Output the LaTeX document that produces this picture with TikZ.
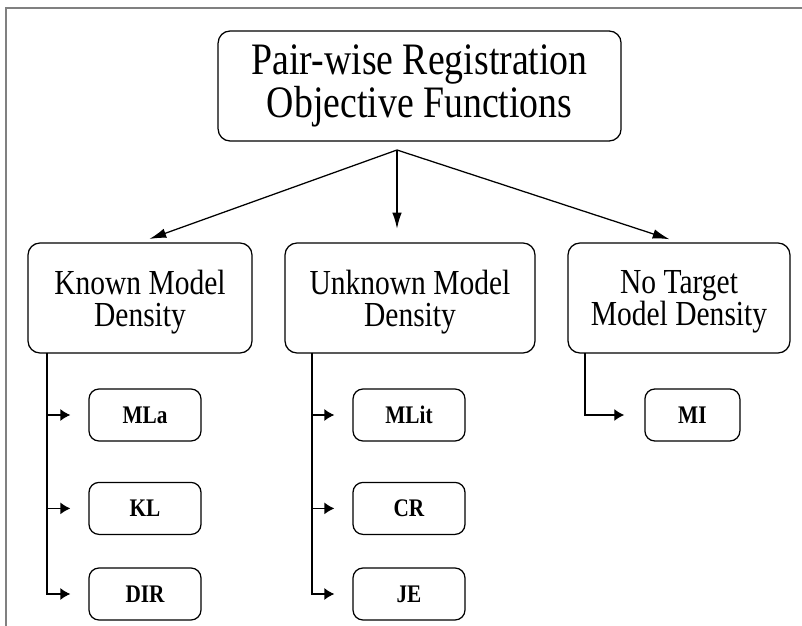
\documentclass[tikz,border=0pt]{standalone}
\usepackage{fontspec}
\setmainfont{Liberation Serif}[FakeStretch=0.84]
\usetikzlibrary{arrows.meta}
\tikzset{
  mainbox/.style={draw, rounded corners=0.3cm, line width=0.9pt, align=center, minimum height=2.75cm, inner sep=0pt},
  midbox/.style={mainbox, font=\fontsize{25}{23}\selectfont, text depth=-7pt},
  leafbox/.style={draw, rounded corners=0.25cm, line width=0.9pt, minimum width=2.8cm, minimum height=1.3cm, inner sep=0pt, font=\fontsize{18}{20}\selectfont\bfseries},
  branch/.style={-{Latex[length=0.25cm,width=0.3cm]}, line width=0.9pt, shorten >=0.45cm},
  split/.style={-{Latex[length=0.42cm,width=0.24cm]}, line width=0.9pt, shorten >=0.25cm}
}
\begin{document}
\begin{tikzpicture}
\useasboundingbox (0,0) rectangle (20.05,-15.65);
\draw[gray, line width=0.9pt] (0.15,-15.65) -- (0.15,-0.2) -- (20.05,-0.2);

\node[mainbox, minimum width=10.075cm, font=\fontsize{32}{24}\selectfont] (Objective) at (10.49,-2.15) {Pair-wise Registration\\Objective Functions};

\node[midbox, minimum width=5.6cm] (Known) at (3.5,-7.45) {Known Model\\Density};
\node[midbox, minimum width=6.25cm] (Unknown) at (10.25,-7.45) {Unknown Model\\Density};
\node[midbox, minimum width=5.55cm] (NoTarget) at (16.975,-7.45) {No Target\\Model Density};

\node[leafbox] (MLa) at (3.625,-10.375) {MLa};
\node[leafbox] (KL) at (3.625,-12.71) {KL};
\node[leafbox] (DIR) at (3.625,-14.85) {DIR};

\node[leafbox] (MLit) at (10.225,-10.375) {MLit};
\node[leafbox] (CR) at (10.225,-12.71) {CR};
\node[leafbox] (JE) at (10.225,-14.85) {JE};

\node[leafbox, minimum width=2.375cm] (MI) at (17.31,-10.375) {MI};

\coordinate (Fork) at (9.925,-3.75);
\draw[split] (Fork) -- (Known.north);
\draw[split, line width=1.6pt, shorten >=0.325cm] (Fork) -- (Fork |- Unknown.north);
\draw[split] (Fork) -- (NoTarget.north);

\coordinate (Known rail) at (1.175,-8.825);
\coordinate (Unknown rail) at (7.8,-8.825);
\coordinate (NoTarget rail) at (14.625,-8.825);

\draw[branch] (Known rail) |- (MLa.west);
\draw[branch] (Known rail) |- (KL.west);
\draw[branch] (Known rail) |- (DIR.west);
\draw[branch] (Unknown rail) |- (MLit.west);
\draw[branch] (Unknown rail) |- (CR.west);
\draw[branch] (Unknown rail) |- (JE.west);
\draw[branch, shorten >=0.5cm] (NoTarget rail) |- (MI.west);
\end{tikzpicture}
\end{document}
